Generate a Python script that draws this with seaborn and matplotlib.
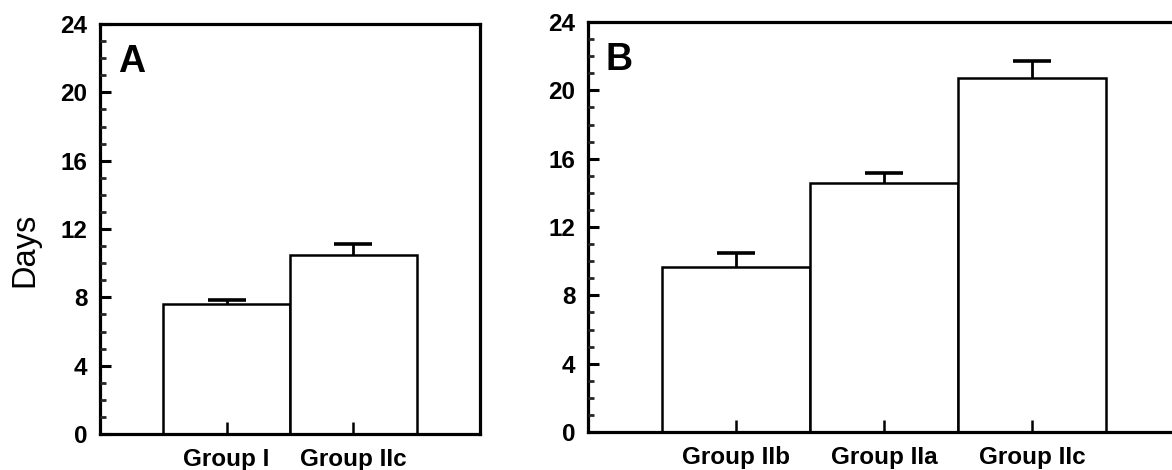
import numpy as np
import pandas as pd
import matplotlib
matplotlib.use("Agg")
import matplotlib.pyplot as plt
import seaborn as sns
from matplotlib.ticker import MultipleLocator

# ---- data ----
groups_a = ["Group I", "Group IIc"]
days_a = [7.6, 10.45]
err_a = [0.25, 0.65]

groups_b = ["Group IIb", "Group IIa", "Group IIc"]
days_b = [9.65, 14.6, 20.7]
err_b = [0.85, 0.55, 1.0]

yticks = [0, 4, 8, 12, 16, 20, 24]
panel_labels = ["A", "B"]
ylabel = "Days"

sns.set_theme(style="white")
plt.rcParams["font.family"] = ["Liberation Sans", "DejaVu Sans"]

fig = plt.figure(figsize=(11.72, 4.70), dpi=100)
ax_a = fig.add_axes([100 / 1172, 1 - 434 / 470, 380 / 1172, 410 / 470])
ax_b = fig.add_axes([588 / 1172, 1 - 432 / 470, 592 / 1172, 410 / 470])

def draw(ax, cats, vals, errs, label, xlim):
    df = pd.DataFrame({"group": cats, "days": vals})
    sns.barplot(data=df, x="group", y="days", order=cats, color="white",
                edgecolor="black", linewidth=1.8, width=1.0, errorbar=None,
                saturation=1, ax=ax, zorder=2)
    for p in ax.patches:
        p.set_facecolor("white")
    cont = ax.errorbar(np.arange(len(cats)), vals,
                       yerr=[np.zeros(len(errs)), errs],
                       fmt="none", ecolor="black", elinewidth=2.0, capsize=14,
                       capthick=2.6, zorder=3)
    # hide the lower caps (they sit on the bar tops)
    for cl in cont[1]:
        if np.allclose(np.asarray(cl.get_ydata(), dtype=float), np.asarray(vals, dtype=float)):
            cl.set_visible(False)
    ax.set_axisbelow(False)
    ax.set_xlim(*xlim)
    ax.set_ylim(0, 24)
    ax.set_yticks(yticks)
    ax.set_yticklabels([str(t) for t in yticks])
    ax.yaxis.set_minor_locator(MultipleLocator(1))
    ax.tick_params(axis="y", which="major", direction="in", length=8, width=2.2,
                   pad=9, labelsize=17.5, left=True, right=False, colors="black")
    ax.tick_params(axis="y", which="minor", direction="in", length=4.5, width=2.0,
                   left=True, right=False)
    ax.tick_params(axis="x", which="major", direction="in", length=9, width=1.8,
                   pad=10, labelsize=17.5, bottom=True, top=False, colors="black")
    for t in ax.get_xticklabels() + ax.get_yticklabels():
        t.set_fontweight("bold")
    ax.set_xlabel("")
    ax.set_ylabel("")
    for s in ax.spines.values():
        s.set_linewidth(2.3)
        s.set_color("black")
        s.set_visible(True)
    ax.annotate(label, xy=(0, 1), xycoords="axes fraction", xytext=(18, -20),
                textcoords="offset pixels", ha="left", va="top",
                fontsize=27, fontweight="bold", color="black")

draw(ax_a, groups_a, days_a, err_a, panel_labels[0], (-1.0, 2.0))
draw(ax_b, groups_b, days_b, err_b, panel_labels[1], (-1.0, 3.0))

fig.text(25 / 1172, 1 - 250 / 470, ylabel, rotation=90, ha="center", va="center",
         fontsize=23.5, color="black")

fig.savefig("out.png", dpi=100)
